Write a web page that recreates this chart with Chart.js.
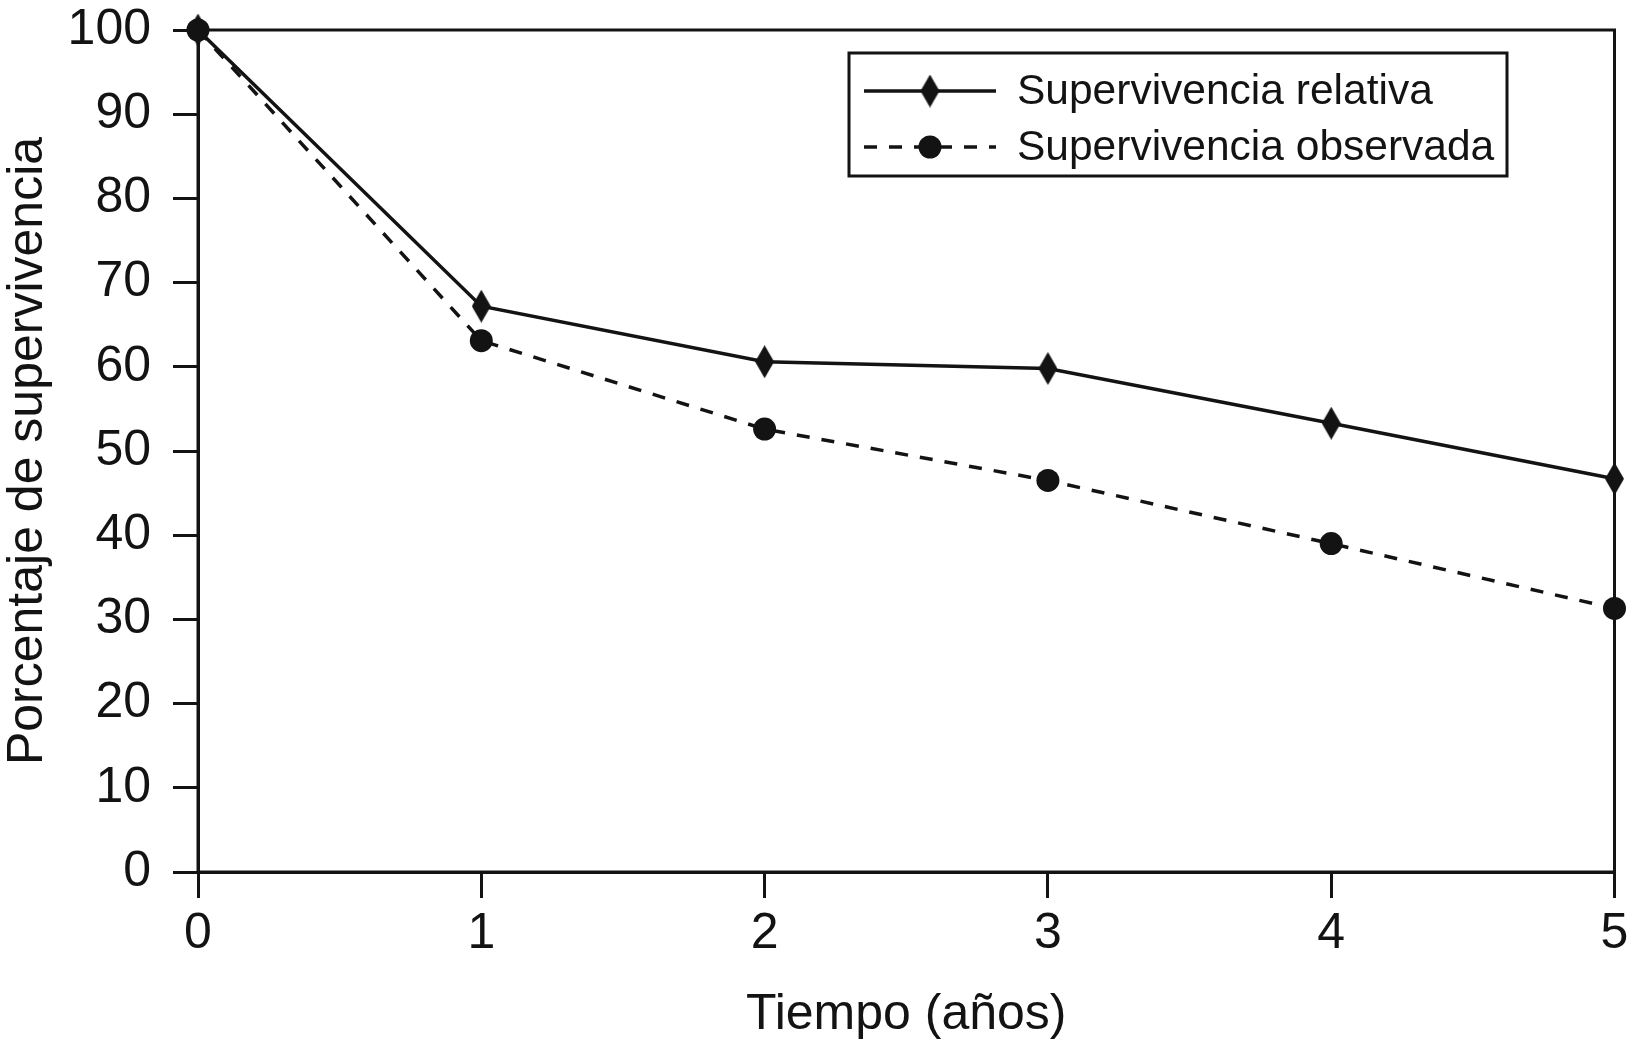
<!DOCTYPE html>
<html>
<head>
<meta charset="utf-8">
<script src="https://cdn.jsdelivr.net/npm/chart.js@4"></script>
<style>
  html, body { margin: 0; padding: 0; background: #fff; overflow: hidden; }
  canvas { display: block; }
</style>
</head>
<body>
<canvas id="c" width="1630" height="1049" style="width:1630px;height:1049px"></canvas>
<script>
// ---- data ----
const years = [0, 1, 2, 3, 4, 5];
const relativa = [100, 67.2, 60.6, 59.8, 53.3, 46.7];
const observada = [100, 63.1, 52.6, 46.5, 39.0, 31.3];
const seriesLabels = ['Supervivencia relativa', 'Supervivencia observada'];
const xTitle = 'Tiempo (años)';
const yTitle = 'Porcentaje de supervivencia';

const INK = '#131313';
const FONT = "'Liberation Sans', Arial, Helvetica, sans-serif";

// tall diamond marker
function makeDiamond(w, h) {
  const cv = document.createElement('canvas');
  cv.width = w; cv.height = h;
  const g = cv.getContext('2d');
  g.fillStyle = INK;
  g.beginPath();
  g.moveTo(w / 2, 0);
  g.lineTo(w, h / 2);
  g.lineTo(w / 2, h);
  g.lineTo(0, h / 2);
  g.closePath();
  g.fill();
  return cv;
}
const diamond = makeDiamond(19, 33);

const toXY = (xs, ys) => xs.map((x, i) => ({ x: x, y: ys[i] }));

const frame = {
  id: 'frame',
  beforeDatasetsDraw(chart) {
    const a = chart.chartArea, ctx = chart.ctx;
    ctx.save();
    ctx.strokeStyle = INK;
    ctx.lineWidth = 3;
    ctx.strokeRect(a.left, a.top, a.right - a.left, a.bottom - a.top);
    ctx.restore();
  }
};

const boxLegend = {
  id: 'boxLegend',
  afterDraw(chart) {
    const ctx = chart.ctx;
    const L = 849, T = 53, R = 1507, B = 176;
    ctx.save();
    ctx.fillStyle = '#fff';
    ctx.fillRect(L, T, R - L, B - T);
    ctx.strokeStyle = INK;
    ctx.lineWidth = 3;
    ctx.strokeRect(L, T, R - L, B - T);
    const rows = [91, 147];
    chart.data.datasets.forEach((ds, i) => {
      const y = rows[i];
      ctx.strokeStyle = ds.borderColor;
      ctx.lineWidth = ds.borderWidth;
      ctx.setLineDash(ds.borderDash || []);
      ctx.beginPath();
      ctx.moveTo(864, y);
      ctx.lineTo(996, y);
      ctx.stroke();
      ctx.setLineDash([]);
      if (ds.pointStyle === 'circle') {
        ctx.fillStyle = ds.pointBackgroundColor;
        ctx.beginPath();
        ctx.arc(930, y, ds.pointRadius, 0, Math.PI * 2);
        ctx.fill();
      } else {
        ctx.drawImage(ds.pointStyle, 930 - ds.pointStyle.width / 2, y - ds.pointStyle.height / 2);
      }
      ctx.fillStyle = INK;
      ctx.font = '42.5px ' + FONT;
      ctx.textBaseline = 'middle';
      ctx.textAlign = 'left';
      ctx.fillText(ds.label, 1017, y + 1);
    });
    ctx.restore();
  }
};

new Chart(document.getElementById('c'), {
  type: 'line',
  data: {
    datasets: [
      {
        label: seriesLabels[0],
        data: toXY(years, relativa),
        borderColor: INK,
        borderWidth: 3.5,
        pointStyle: diamond,
        pointBackgroundColor: INK,
        pointRadius: 12,
        tension: 0,
        clip: false,
        order: 2
      },
      {
        label: seriesLabels[1],
        data: toXY(years, observada),
        borderColor: INK,
        borderWidth: 3.5,
        borderDash: [13, 12],
        pointStyle: 'circle',
        pointBackgroundColor: INK,
        pointBorderWidth: 0,
        pointRadius: 11.5,
        tension: 0,
        clip: false,
        order: 1
      }
    ]
  },
  options: {
    responsive: false,
    maintainAspectRatio: false,
    animation: false,
    devicePixelRatio: 1,
    layout: { padding: { left: 0, top: 30, right: 15, bottom: 0 } },
    plugins: { legend: { display: false }, tooltip: { enabled: false } },
    scales: {
      x: {
        type: 'linear',
        min: 0, max: 5,
        ticks: { stepSize: 1, color: INK, font: { family: FONT, size: 50 }, padding: 6, maxRotation: 0 },
        grid: { drawOnChartArea: false, drawTicks: true, tickLength: 26, lineWidth: 3, color: INK },
        border: { display: true, width: 3, color: INK },
        title: { display: true, text: xTitle, color: INK, font: { family: FONT, size: 50, lineHeight: 1 }, padding: { top: 0, bottom: 9 } },
        afterFit(s) { s.height = 177; s.paddingLeft = 0; s.paddingRight = 0; }
      },
      y: {
        min: 0, max: 100,
        ticks: { stepSize: 10, color: INK, font: { family: FONT, size: 50 }, padding: 22 },
        grid: { drawOnChartArea: false, drawTicks: true, tickLength: 25, lineWidth: 3, color: INK },
        border: { display: true, width: 3, color: INK },
        title: { display: true, text: yTitle, color: INK, font: { family: FONT, size: 50, lineHeight: 1 }, padding: { top: 3, bottom: 0 } },
        afterFit(s) { s.width = 198; s.paddingTop = 0; s.paddingBottom = 0; }
      }
    }
  },
  plugins: [frame, boxLegend]
});
</script>
</body>
</html>
